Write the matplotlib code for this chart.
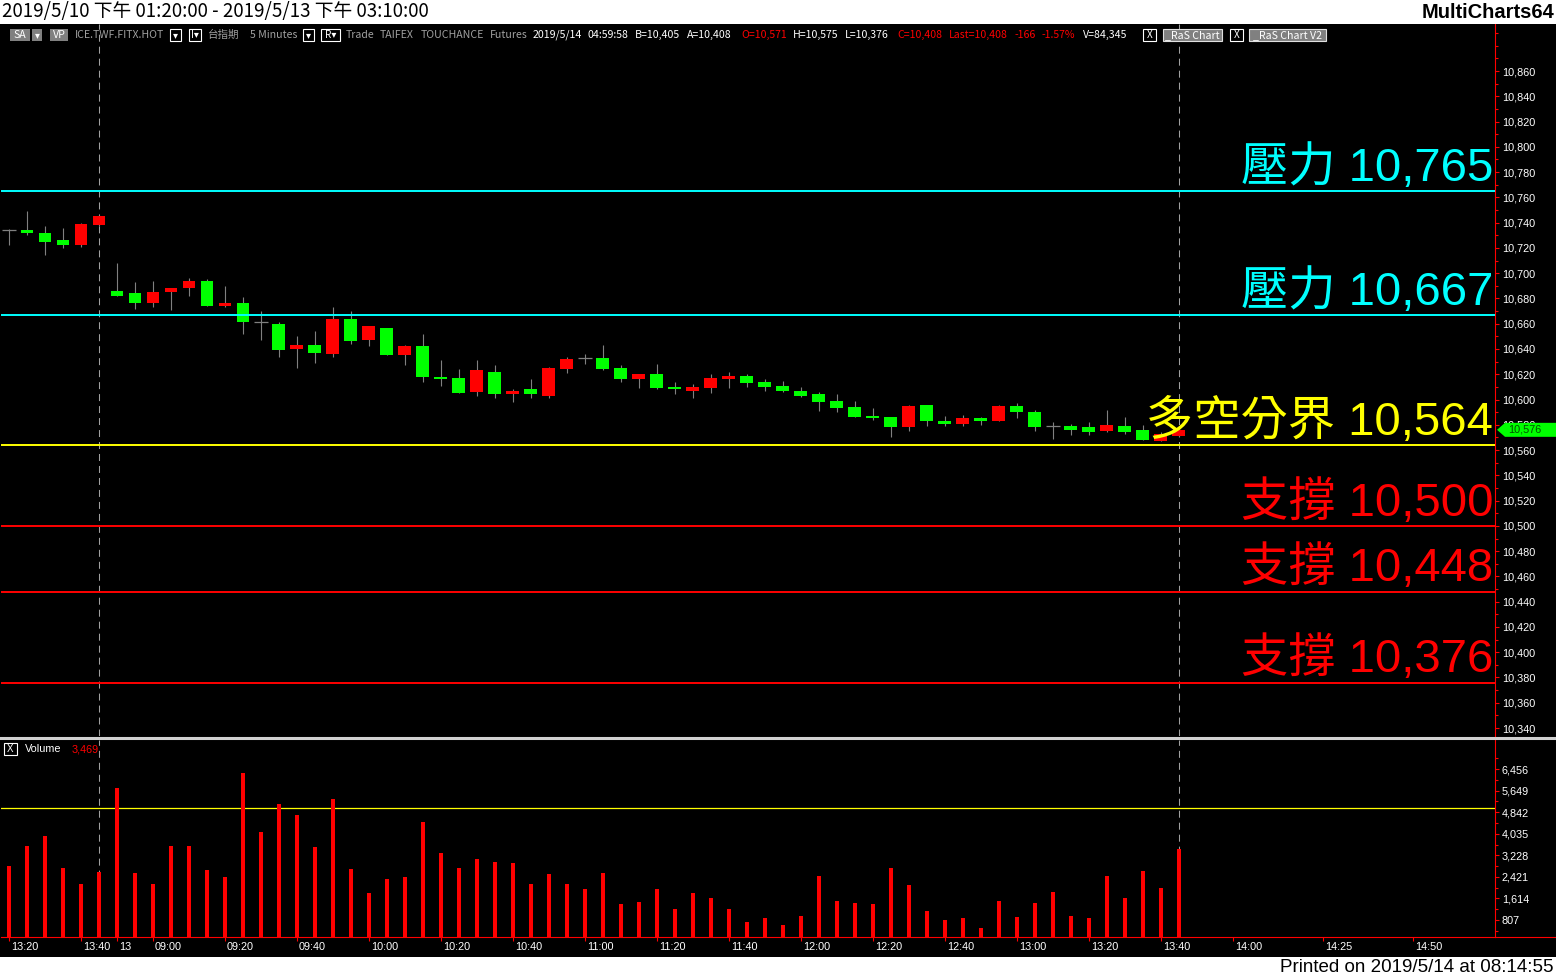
import matplotlib
matplotlib.use("Agg")
import matplotlib.pyplot as plt
from matplotlib.patches import Rectangle, Polygon
from matplotlib.lines import Line2D
from matplotlib.ticker import FixedLocator, MultipleLocator, FuncFormatter
import numpy as np

W, H, DPI = 1556, 977, 100

# 5-minute bars, 2019/5/10 13:20 -> 2019/5/13 13:45
opens = [10734, 10734, 10732, 10726, 10722, 10738, 10686, 10684, 10676, 10685,
         10688, 10694, 10674, 10676, 10661, 10660, 10640, 10643, 10636, 10664,
         10647, 10657, 10635, 10642, 10618, 10617, 10606, 10622, 10604, 10608,
         10603, 10624, 10633, 10633, 10625, 10616, 10620, 10610, 10607, 10609,
         10616, 10619, 10614, 10611, 10607, 10604, 10599, 10594, 10587, 10586,
         10578, 10596, 10583, 10581, 10585, 10583, 10595, 10590, 10579, 10579,
         10578, 10575, 10579, 10576, 10567, 10571]
highs = [10735, 10749, 10737, 10736, 10740, 10746, 10708, 10693, 10694, 10688,
         10696, 10695, 10690, 10681, 10670, 10661, 10650, 10654, 10673, 10670,
         10658, 10657, 10643, 10652, 10631, 10624, 10631, 10627, 10608, 10616,
         10626, 10634, 10636, 10643, 10627, 10620, 10628, 10614, 10612, 10620,
         10622, 10620, 10616, 10615, 10610, 10606, 10604, 10599, 10593, 10586,
         10596, 10596, 10587, 10588, 10586, 10596, 10597, 10592, 10582, 10581,
         10582, 10592, 10586, 10580, 10574, 10577]
lows = [10722, 10730, 10714, 10720, 10721, 10737, 10682, 10672, 10673, 10671,
        10682, 10674, 10673, 10652, 10647, 10634, 10625, 10629, 10634, 10644,
        10642, 10635, 10627, 10614, 10611, 10605, 10603, 10601, 10598, 10601,
        10601, 10621, 10628, 10623, 10614, 10609, 10608, 10604, 10601, 10605,
        10609, 10610, 10607, 10606, 10602, 10591, 10590, 10586, 10584, 10570,
        10575, 10579, 10579, 10579, 10580, 10583, 10585, 10575, 10569, 10572,
        10572, 10574, 10573, 10568, 10567, 10570]
closes = [10734, 10732, 10725, 10722, 10739, 10745, 10682, 10676, 10685, 10688,
          10694, 10674, 10676, 10661, 10661, 10639, 10643, 10637, 10664, 10646,
          10658, 10635, 10642, 10618, 10616, 10605, 10623, 10604, 10607, 10604,
          10625, 10632, 10633, 10624, 10616, 10620, 10609, 10608, 10610, 10617,
          10619, 10613, 10610, 10607, 10603, 10598, 10593, 10586, 10585, 10578,
          10595, 10583, 10581, 10585, 10583, 10595, 10590, 10578, 10579, 10576,
          10574, 10580, 10574, 10568, 10573, 10576]
volumes = [2827, 3575, 3949, 2752, 2154, 2603, 5745, 2565, 2154, 3575,
           3575, 2677, 2416, 6306, 4099, 5147, 4735, 3538, 5334, 2715,
           1817, 2341, 2416, 4473, 3313, 2752, 3089, 2977, 2939, 2154,
           2528, 2154, 1967, 2565, 1405, 1480, 1967, 1218, 1817, 1630,
           1218, 732, 882, 620, 957, 2453, 1518, 1443, 1405, 2752,
           2116, 1144, 807, 882, 508, 1518, 919, 1443, 1854, 957,
           882, 2453, 1630, 2640, 2004, 3469]

time_ticks = [0, 4, 6, 8, 12, 16, 20, 24, 28, 32, 36, 40, 44, 48, 52, 56, 60, 64, 68, 73, 78]
time_labels = ["13:20", "13:40", "13", "09:00", "09:20", "09:40", "10:00", "10:20",
               "10:40", "11:00", "11:20", "11:40", "12:00", "12:20", "12:40", "13:00",
               "13:20", "13:40", "14:00", "14:25", "14:50"]

levels = [10765, 10667, 10564, 10500, 10448, 10376]
level_names = ["壓力", "壓力", "多空分界", "支撐", "支撐", "支撐"]
level_colors = ["#00FFFF", "#00FFFF", "#FFFF00", "#FF0000", "#FF0000", "#FF0000"]
session_marks = [5, 65]
vol_avg = 5000
vol_step = 807
last_price = 10576

RED, GREEN, GRAY = "#FF0000", "#00FF00", "#808080"
NARROW = ["Liberation Sans Narrow", "Noto Sans CJK TC", "DejaVu Sans"]
SANS = ["Liberation Sans", "Noto Sans CJK TC", "DejaVu Sans"]


def fx(x):
    return x / W


def fy(y):
    return 1 - y / H


def box(x0, y0, x1, y1, fc, ec="none", lw=0.8):
    fig.patches.append(Rectangle((fx(x0), fy(y1)), fx(x1) - fx(x0), fy(y0) - fy(y1),
                                 transform=fig.transFigure, facecolor=fc, edgecolor=ec, lw=lw))


fig = plt.figure(figsize=(W / DPI, H / DPI), dpi=DPI, facecolor="black")
ax = fig.add_axes([fx(1), fy(736), fx(1495) - fx(1), fy(24) - fy(736)], facecolor="black")
axv = fig.add_axes([fx(1), fy(937), fx(1495) - fx(1), fy(740) - fy(937)], facecolor="black")

x = np.arange(len(opens))
xlim = (-0.444, 82.56)

# candles
ax.vlines(x, lows, highs, color=GRAY, lw=0.8, zorder=2)
for i, o, c in zip(x, opens, closes):
    if c == o:
        ax.hlines(o, i - 0.39, i + 0.39, color=GRAY, lw=0.9, zorder=3)
        continue
    col = RED if c > o else GREEN
    ax.add_patch(Rectangle((i - 0.36, min(o, c)), 0.72, max(abs(c - o), 1.5),
                           facecolor=col, edgecolor="none", zorder=3))

for lvl, name, col in zip(levels, level_names, level_colors):
    ax.axhline(lvl, color=col, lw=1.4, zorder=4)
    ax.text(xlim[1] - 0.1, lvl + 8, f"{name} {lvl:,}", color=col, fontsize=34,
            family=SANS, ha="right", va="baseline", zorder=5)

ax.set_xlim(*xlim)
ax.set_ylim(10333.7, 10897.2)
ax.yaxis.tick_right()
ax.yaxis.set_major_locator(FixedLocator(range(10340, 10861, 20)))
ax.yaxis.set_minor_locator(MultipleLocator(10))
ax.yaxis.set_major_formatter(FuncFormatter(lambda v, p: f"{int(v):,}"))
ax.tick_params(axis="y", which="major", colors=RED, labelcolor="white", length=3, width=0.8,
               pad=2, labelsize=7.8)
ax.tick_params(axis="y", which="minor", colors=RED, length=2, width=0.8)
ax.set_xticks([])
for s in ["top", "left", "bottom"]:
    ax.spines[s].set_visible(False)
ax.spines["right"].set_color(RED)
for lab in ax.get_yticklabels():
    lab.set_family(SANS)

# volume
axv.bar(x, volumes, width=0.2, color=RED, zorder=3)
axv.axhline(vol_avg, color="#FFFF00", lw=0.9, zorder=2)
axv.set_xlim(*xlim)
axv.set_ylim(171, 7541)
axv.yaxis.tick_right()
axv.yaxis.set_major_locator(FixedLocator([vol_step * k for k in range(1, 9)]))
axv.yaxis.set_minor_locator(FixedLocator([vol_step * (k + 0.5) for k in range(0, 9)]))
axv.yaxis.set_major_formatter(FuncFormatter(lambda v, p: f"{int(round(v)):,}"))
axv.tick_params(axis="y", which="major", colors=RED, labelcolor="white", length=3, width=0.8,
                pad=2, labelsize=7.8)
axv.tick_params(axis="y", which="minor", colors=RED, length=2, width=0.8)
axv.set_xticks(time_ticks)
axv.set_xticklabels([""] * len(time_ticks))
axv.tick_params(axis="x", colors=RED, length=3, width=0.8)
for s in ["top", "left"]:
    axv.spines[s].set_visible(False)
axv.spines["right"].set_color(RED)
axv.spines["bottom"].set_color(RED)
for lab in axv.get_yticklabels():
    lab.set_family(SANS)
for pos, lab in zip(time_ticks, time_labels):
    axv.text(pos + 0.11, -0.052, lab, transform=axv.get_xaxis_transform(), color="white",
             fontsize=7.8, family=SANS, ha="left", va="center", clip_on=False)

for a in (ax, axv):
    for m in session_marks:
        a.axvline(m, color="#A0A0A0", lw=0.75, ls=(0, (6.7, 4.8)), zorder=1)

# panel frame lines
fig.lines.append(Line2D([0, 1], [fy(737.5), fy(737.5)], transform=fig.transFigure,
                        color="#D0D0D0", lw=2.2))
fig.lines.append(Line2D([fx(1495), 1], [fy(937.3), fy(937.3)], transform=fig.transFigure,
                        color=RED, lw=0.8))

# header / footer
box(0, 0, W, 24, "white")
box(0, 957, W, H, "white")
fig.text(fx(2), fy(12), "2019/5/10 下午 01:20:00 - 2019/5/13 下午 03:10:00", fontsize=13.5,
         family=NARROW, ha="left", va="center", color="black")
fig.text(fx(1554), fy(12), "MultiCharts64", fontsize=14.5, family=SANS, weight="bold",
         ha="right", va="center", color="black")
fig.text(fx(1554), fy(967), "Printed on 2019/5/14 at 08:14:55", fontsize=13.5, family=SANS,
         ha="right", va="center", color="black")

# status line
STY = 35
box(10, 29, 30, 41, GRAY)
box(32, 29, 42, 41, GRAY)
box(50, 29, 68, 41, GRAY)
fig.text(fx(20), fy(STY), "SA", fontsize=7.6, family=NARROW, color="white", ha="center", va="center")
fig.text(fx(37), fy(STY), "▾", fontsize=7, family=NARROW, color="white", ha="center", va="center")
fig.text(fx(59), fy(STY), "VP", fontsize=7.6, family=NARROW, color="white", ha="center", va="center")
for x0, x1, t in [(170, 181, "▾"), (189, 201, "I▾"), (303, 314, "▾"), (321, 340, "R▾"),
                  (1143, 1156, "X"), (1230, 1243, "X")]:
    box(x0, 29, x1, 41, "black", "white")
    fig.text(fx((x0 + x1) / 2), fy(STY), t, fontsize=7.2, family=NARROW, color="white",
             ha="center", va="center")
for x0, x1, t in [(1163, 1222, "_RaS Chart"), (1249, 1326, "_RaS Chart V2")]:
    box(x0, 29, x1, 41, GRAY, "#E0E0E0")
    fig.text(fx((x0 + x1) / 2), fy(STY), t, fontsize=7.6, family=NARROW, color="white",
             ha="center", va="center")
status = [(75, "ICE.TWF.FITX.HOT", "#A0A0A0"), (208, "台指期", "#A0A0A0"),
          (250, "5 Minutes", "#A0A0A0"), (346, "Trade", "#A0A0A0"), (380, "TAIFEX", "#A0A0A0"),
          (421, "TOUCHANCE", "#A0A0A0"), (490, "Futures", "#A0A0A0"),
          (533, "2019/5/14", "white"), (587, "04:59:58", "white"), (635, "B=10,405", "white"),
          (687, "A=10,408", "white"), (741, "O=10,571", RED), (793, "H=10,575", "white"),
          (845, "L=10,376", "white"), (897, "C=10,408", RED), (949, "Last=10,408", RED),
          (1015, "-166", RED), (1042, "-1.57%", RED), (1083, "V=84,345", "white")]
for xp, t, col in status:
    fig.text(fx(xp), fy(STY), t, fontsize=7.6, family=NARROW, color=col, ha="left", va="center")

# volume panel caption
box(4, 743, 17, 755, "black", "white")
fig.text(fx(10.5), fy(749), "X", fontsize=7, family=SANS, color="white", ha="center", va="center")
fig.text(fx(25), fy(749), "Volume", fontsize=7.8, family=SANS, color="white", ha="left", va="center")
fig.text(fx(72), fy(749), f"{volumes[-1]:,}", fontsize=7.8, family=SANS, color=RED,
         ha="left", va="center")

# last price marker
ly = 71 + (10860 - last_price) * 1.2635
pts = [(1497, ly), (1505, ly - 7), (1556, ly - 7), (1556, ly + 7), (1505, ly + 7)]
fig.patches.append(Polygon([(fx(a), fy(b)) for a, b in pts], closed=True,
                           transform=fig.transFigure, facecolor=GREEN, edgecolor="none"))
fig.text(fx(1508), fy(ly), f"{last_price:,}", fontsize=7.8, family=SANS, color="#005000",
         ha="left", va="center")

fig.savefig("out.png", dpi=DPI, facecolor="black")
